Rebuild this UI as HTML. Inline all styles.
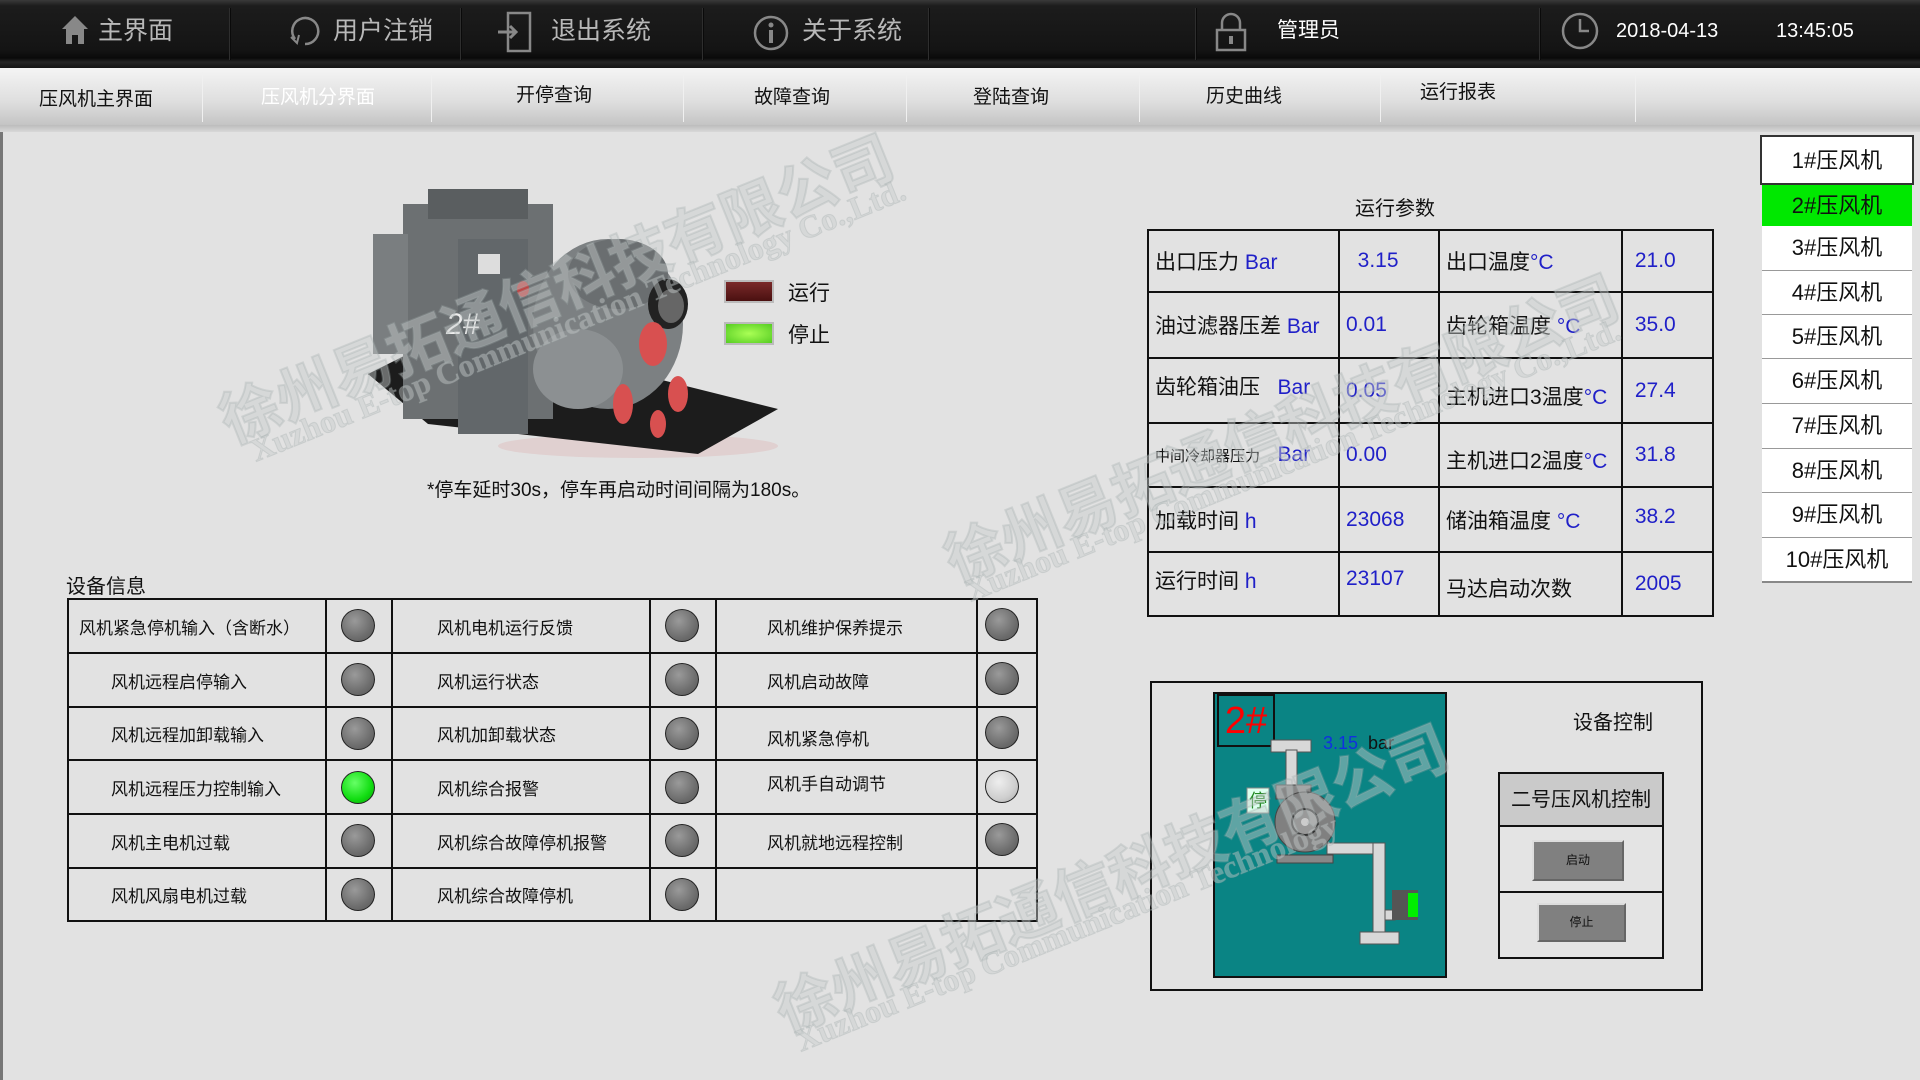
<!DOCTYPE html>
<html><head><meta charset="utf-8">
<style>
*{margin:0;padding:0;box-sizing:border-box}
body{width:1920px;height:1080px;overflow:hidden;background:#e2e2e2;position:relative;font-family:"Liberation Sans","Noto Sans CJK SC",sans-serif;color:#111}
.a{position:absolute;white-space:nowrap}
#top{position:absolute;left:0;top:0;width:1920px;height:68px;background:linear-gradient(#3a3a3a 0,#1c1c1c 6px,#141414 50px,#0a0a0a 58px,#262626 62px,#151515 68px)}
.sep{position:absolute;top:8px;width:2px;height:52px;background:#2e2e2e;border-right:1px solid #0a0a0a}
.tt{position:absolute;top:14px;font-size:25px;color:#b8b8b8;line-height:34px}
#nav{position:absolute;left:0;top:68px;width:1920px;height:57px;background:linear-gradient(#f4f4f4,#dedede 60%,#c4c4c4)}
#navb{position:absolute;left:0;top:125px;width:1920px;height:7px;background:linear-gradient(#bcbcbc,#d8d8d8)}
.ns{position:absolute;top:72px;width:1px;height:50px;background:#b0b0b0;border-right:1px solid #f0f0f0}
.nt{position:absolute;font-size:19px;line-height:24px;color:#111}
table{border-collapse:collapse;position:absolute;table-layout:fixed}
td{border:2px solid #111;padding:0;white-space:nowrap;overflow:hidden}
.lamp{position:absolute;width:34px;height:33px;border-radius:50%;background:radial-gradient(circle at 40% 35%,#9a9a9a,#6e6e6e 60%,#555);border:1.5px solid #222}
.pl{font-size:21px;padding-left:6px}
.b{color:#2020c8}
.li{position:absolute;left:1762px;width:150px;background:#fff;border-bottom:1px solid #999;font-size:22px;text-align:center}
.wm{position:absolute;color:rgba(200,204,204,.45);font-size:60px;white-space:nowrap;transform:rotate(-22deg);transform-origin:left top;-webkit-text-stroke:2px rgba(160,168,168,.3);font-weight:bold}
.wm2{position:absolute;color:rgba(200,204,204,.45);font-size:32px;white-space:nowrap;transform:rotate(-22deg);transform-origin:left top;font-family:"Liberation Serif",serif;font-weight:bold;-webkit-text-stroke:1px rgba(160,168,168,.3)}
</style></head><body>
<div style="position:absolute;left:0;top:0;width:3px;height:1080px;background:#777"></div>
<div id="top"></div>
<div class="sep" style="left:229px"></div><div class="sep" style="left:460px"></div><div class="sep" style="left:702px"></div><div class="sep" style="left:928px"></div><div class="sep" style="left:1195px"></div><div class="sep" style="left:1539px"></div>
<svg class="a" style="left:60px;top:14px" width="30" height="32"><path d="M15 2 L2 15 H6 V30 H12 V21 H18 V30 H24 V15 H28 Z" fill="#888"/></svg>
<div class="tt" style="left:98px">主界面</div>
<svg class="a" style="left:287px;top:13px" width="36" height="36"><path d="M8 26 A13 13 0 1 1 18 31" fill="none" stroke="#888" stroke-width="2.5"/><path d="M4 24 L10 30 L12 22" fill="none" stroke="#888" stroke-width="2"/></svg>
<div class="tt" style="left:333px">用户注销</div>
<svg class="a" style="left:496px;top:10px" width="38" height="44"><rect x="12" y="3" width="22" height="38" fill="none" stroke="#888" stroke-width="2.5"/><path d="M2 22 H20 M14 16 L20 22 L14 28" fill="none" stroke="#888" stroke-width="3"/></svg>
<div class="tt" style="left:551px">退出系统</div>
<svg class="a" style="left:752px;top:14px" width="38" height="38"><circle cx="19" cy="19" r="16" fill="none" stroke="#888" stroke-width="2.5"/><rect x="17" y="16" width="4" height="13" fill="#888"/><circle cx="19" cy="11" r="2.5" fill="#888"/></svg>
<div class="tt" style="left:802px">关于系统</div>
<svg class="a" style="left:1212px;top:12px" width="38" height="40"><path d="M10 18 V11 A9 9 0 0 1 28 11 V18" fill="none" stroke="#888" stroke-width="2.5"/><rect x="5" y="18" width="28" height="20" fill="none" stroke="#888" stroke-width="2.5"/><rect x="17" y="24" width="4" height="8" fill="#888"/></svg>
<div class="tt" style="left:1277px;color:#fff;font-size:21px">管理员</div>
<svg class="a" style="left:1560px;top:11px" width="40" height="40"><circle cx="20" cy="20" r="17" fill="none" stroke="#888" stroke-width="2.5"/><path d="M20 8 V20 H29" fill="none" stroke="#888" stroke-width="2.5"/></svg>
<div class="tt" style="left:1616px;color:#fff;font-size:20px">2018-04-13</div>
<div class="tt" style="left:1776px;color:#fff;font-size:20px">13:45:05</div>

<div id="nav"></div><div id="navb"></div>
<div class="ns" style="left:202px"></div><div class="ns" style="left:431px"></div><div class="ns" style="left:683px"></div><div class="ns" style="left:906px"></div><div class="ns" style="left:1139px"></div><div class="ns" style="left:1380px"></div><div class="ns" style="left:1635px"></div>
<div class="nt" style="left:39px;top:88px">压风机主界面</div>
<div class="nt" style="left:261px;top:86px;color:#fff">压风机分界面</div>
<div class="nt" style="left:516px;top:84px">开停查询</div>
<div class="nt" style="left:754px;top:86px">故障查询</div>
<div class="nt" style="left:973px;top:86px">登陆查询</div>
<div class="nt" style="left:1206px;top:85px">历史曲线</div>
<div class="nt" style="left:1420px;top:81px">运行报表</div>

<!-- machine -->
<svg class="a" style="left:368px;top:184px" width="412" height="275">
<ellipse cx="270" cy="262" rx="140" ry="12" fill="#e0d0d0"/>
<path d="M0 190 L40 170 L270 190 L410 225 L330 270 L60 240 Z" fill="#1c1c1c"/>
<rect x="35" y="20" width="150" height="215" fill="#6c7072"/>
<rect x="60" y="5" width="100" height="30" fill="#5a5e60"/>
<rect x="5" y="50" width="35" height="120" fill="#7a7e80"/>
<rect x="90" y="55" width="70" height="195" fill="#62676a"/>
<rect x="110" y="70" width="22" height="20" fill="#ddd"/>
<text x="78" y="150" font-size="30" font-style="italic" fill="#eee" font-family="Liberation Sans">2#</text>
<ellipse cx="240" cy="140" rx="75" ry="85" fill="#7c8082"/>
<ellipse cx="210" cy="185" rx="45" ry="40" fill="#8c9092"/>
<ellipse cx="250" cy="90" rx="50" ry="35" fill="#6a6e70"/>
<ellipse cx="300" cy="120" rx="20" ry="25" fill="#222"/>
<ellipse cx="303" cy="122" rx="13" ry="17" fill="#666"/>
<ellipse cx="285" cy="160" rx="14" ry="22" fill="#d85050"/>
<ellipse cx="255" cy="220" rx="10" ry="20" fill="#d85050"/>
<ellipse cx="310" cy="210" rx="10" ry="18" fill="#d85050"/>
<ellipse cx="290" cy="240" rx="8" ry="14" fill="#d85050"/>
<ellipse cx="155" cy="105" rx="6" ry="8" fill="#c04040"/>
</svg>
<div class="a" style="left:724px;top:280px;width:50px;height:23px;background:linear-gradient(#7a2a2a,#4a1010);border:2px solid #bbb"></div>
<div class="a" style="left:788px;top:277px;font-size:21px">运行</div>
<div class="a" style="left:724px;top:322px;width:50px;height:23px;background:radial-gradient(#aaff55,#55cc22);border:2px solid #bbb"></div>
<div class="a" style="left:788px;top:319px;font-size:21px">停止</div>
<div class="a" style="left:427px;top:475px;font-size:19px">*停车延时30s，停车再启动时间间隔为180s。</div>

<!-- params -->
<div class="a" style="left:1355px;top:192px;font-size:20px">运行参数</div>
<table style="left:1147px;top:229px;width:567px;height:386px">
<colgroup><col style="width:191px"><col style="width:100px"><col style="width:183px"><col></colgroup>
<tr style="height:62px"><td class="pl">出口压力 <span class="b">Bar</span></td><td class="pl b">&nbsp;&nbsp;3.15</td><td class="pl">出口温度<span class="b">°C</span></td><td class="pl b">&nbsp;21.0</td></tr>
<tr style="height:66px"><td class="pl">油过滤器压差 <span class="b">Bar</span></td><td class="pl b">0.01</td><td class="pl">齿轮箱温度 <span class="b">°C</span></td><td class="pl b">&nbsp;35.0</td></tr>
<tr style="height:65px"><td class="pl" style="padding-bottom:10px">齿轮箱油压 &nbsp;&nbsp;<span class="b">Bar</span></td><td class="pl b">0.05</td><td class="pl" style="padding-top:10px">主机进口3温度<span class="b">°C</span></td><td class="pl b">&nbsp;27.4</td></tr>
<tr style="height:64px"><td class="pl"><span style="font-size:15px">中间冷却器压力</span> &nbsp;&nbsp;<span class="b">Bar</span></td><td class="pl b">0.00</td><td class="pl" style="padding-top:10px">主机进口2温度<span class="b">°C</span></td><td class="pl b">&nbsp;31.8</td></tr>
<tr style="height:65px"><td class="pl">加载时间 <span class="b">h</span></td><td class="pl b">23068</td><td class="pl">储油箱温度 <span class="b">°C</span></td><td class="pl b" style="padding-bottom:6px">&nbsp;38.2</td></tr>
<tr style="height:64px"><td class="pl" style="padding-bottom:8px">运行时间 <span class="b">h</span></td><td class="pl b" style="padding-bottom:10px">23107</td><td class="pl" style="padding-top:8px">马达启动次数</td><td class="pl b">&nbsp;2005</td></tr>
</table>

<!-- right list -->
<div class="li" style="top:135px;height:50px;line-height:48px;border:2px solid #333;left:1760px;width:154px">1#压风机</div>
<div class="li" style="top:185px;height:41px;line-height:41px;background:#00e800;border:none">2#压风机</div>
<div class="li" style="top:226px;height:45px;line-height:44px">3#压风机</div>
<div class="li" style="top:271px;height:44px;line-height:44px">4#压风机</div>
<div class="li" style="top:315px;height:44px;line-height:44px">5#压风机</div>
<div class="li" style="top:359px;height:45px;line-height:44px">6#压风机</div>
<div class="li" style="top:404px;height:45px;line-height:44px">7#压风机</div>
<div class="li" style="top:449px;height:44px;line-height:44px">8#压风机</div>
<div class="li" style="top:493px;height:45px;line-height:44px">9#压风机</div>
<div class="li" style="top:538px;height:45px;line-height:44px;border-bottom:2px solid #888">10#压风机</div>

<!-- device info -->
<div class="a" style="left:66px;top:570px;font-size:20px">设备信息</div>
<table style="left:67px;top:598px;width:971px;height:322px;font-size:17px">
<colgroup><col style="width:258px"><col style="width:66px"><col style="width:258px"><col style="width:66px"><col style="width:261px"><col></colgroup>
<tr style="height:54px"><td style="padding-left:10px">风机紧急停机输入（含断水）</td><td></td><td style="padding-left:44px">风机电机运行反馈</td><td></td><td style="padding-left:50px">风机维护保养提示</td><td></td></tr>
<tr style="height:54px"><td style="padding-left:42px">风机远程启停输入</td><td></td><td style="padding-left:44px">风机运行状态</td><td></td><td style="padding-left:50px">风机启动故障</td><td></td></tr>
<tr style="height:53px"><td style="padding-left:42px">风机远程加卸载输入</td><td></td><td style="padding-left:44px">风机加卸载状态</td><td></td><td style="padding-left:50px;padding-top:8px">风机紧急停机</td><td></td></tr>
<tr style="height:54px"><td style="padding-left:42px">风机远程压力控制输入</td><td></td><td style="padding-left:44px">风机综合报警</td><td></td><td style="padding-left:50px;padding-bottom:10px">风机手自动调节</td><td></td></tr>
<tr style="height:54px"><td style="padding-left:42px">风机主电机过载</td><td></td><td style="padding-left:44px">风机综合故障停机报警</td><td></td><td style="padding-left:50px">风机就地远程控制</td><td></td></tr>
<tr style="height:53px"><td style="padding-left:42px">风机风扇电机过载</td><td></td><td style="padding-left:44px">风机综合故障停机</td><td></td><td></td><td></td></tr>
</table>
<div class="lamp" style="left:341px;top:609px"></div><div class="lamp" style="left:665px;top:609px"></div><div class="lamp" style="left:985px;top:608px"></div>
<div class="lamp" style="left:341px;top:663px"></div><div class="lamp" style="left:665px;top:663px"></div><div class="lamp" style="left:985px;top:662px"></div>
<div class="lamp" style="left:341px;top:717px"></div><div class="lamp" style="left:665px;top:717px"></div><div class="lamp" style="left:985px;top:716px"></div>
<div class="lamp" style="left:341px;top:771px;background:radial-gradient(circle at 40% 35%,#66ff66,#11dd11 60%,#0a9a0a)"></div><div class="lamp" style="left:665px;top:771px"></div><div class="lamp" style="left:985px;top:770px;background:radial-gradient(circle at 40% 35%,#eee,#cfcfcf 60%,#aaa)"></div>
<div class="lamp" style="left:341px;top:824px"></div><div class="lamp" style="left:665px;top:824px"></div><div class="lamp" style="left:985px;top:823px"></div>
<div class="lamp" style="left:341px;top:878px"></div><div class="lamp" style="left:665px;top:878px"></div>

<!-- control -->
<div class="a" style="left:1150px;top:681px;width:553px;height:310px;border:2px solid #111"></div>
<div class="a" style="left:1213px;top:692px;width:234px;height:286px;background:#0a8484;border:2px solid #111"></div>
<div class="a" style="left:1217px;top:694px;width:58px;height:53px;border:2px solid #111;color:#f00;font-size:38px;line-height:50px;text-align:center">2#</div>
<div class="a" style="left:1323px;top:733px;font-size:18px;color:#1030e0">3.15 <span style="color:#111">&nbsp;bar</span></div>
<svg class="a" style="left:1240px;top:735px" width="190" height="215">
<g fill="#d8d8d8" stroke="#555" stroke-width="1">
<rect x="31" y="5" width="40" height="12"/>
<rect x="46" y="15" width="11" height="40"/>
<rect x="87" y="108" width="57" height="11"/>
<rect x="133" y="108" width="12" height="90"/>
<rect x="120" y="197" width="39" height="12"/>
<rect x="145" y="175" width="10" height="10"/>
</g>
<rect x="36" y="50" width="35" height="14" fill="#888" stroke="#444"/>
<circle cx="65" cy="87" r="30" fill="#808080" stroke="#444"/>
<circle cx="65" cy="87" r="13" fill="#999" stroke="#333" stroke-width="2"/>
<circle cx="65" cy="87" r="4" fill="#ccc"/>
<rect x="37" y="120" width="56" height="8" fill="#888" stroke="#444"/>
<rect x="152" y="155" width="26" height="30" fill="#555"/>
<rect x="168" y="158" width="10" height="24" fill="#00ee00"/>
<rect x="7" y="53" width="22" height="25" fill="#dfe" stroke="#888"/>
<text x="9" y="72" font-size="18" fill="#282" font-family="Noto Sans CJK SC">停</text>
</svg>
<div class="a" style="left:1573px;top:706px;font-size:20px">设备控制</div>
<div class="a" style="left:1498px;top:772px;width:166px;height:187px;border:2px solid #111;background:#e4e4e4"></div>
<div class="a" style="left:1500px;top:774px;width:162px;height:53px;background:#cacaca;border-bottom:2px solid #111;font-size:20px;line-height:52px;text-align:center">二号压风机控制</div>
<div class="a" style="left:1500px;top:891px;width:162px;height:2px;background:#111"></div>
<div class="a" style="left:1532px;top:840px;width:92px;height:41px;background:#808080;border:2px solid #ddd;border-right-color:#666;border-bottom-color:#666;font-size:12px;line-height:37px;text-align:center">启动</div>
<div class="a" style="left:1537px;top:903px;width:89px;height:39px;background:#808080;border:2px solid #ddd;border-right-color:#666;border-bottom-color:#666;font-size:12px;line-height:35px;text-align:center">停止</div>

<!-- watermarks -->
<div class="wm" style="left:205px;top:380px">徐州易拓通信科技有限公司</div>
<div class="wm2" style="left:245px;top:435px">Xuzhou E-top Communication Technology Co.,Ltd.</div>
<div class="wm" style="left:930px;top:520px">徐州易拓通信科技有限公司</div>
<div class="wm2" style="left:960px;top:575px">Xuzhou E-top Communication Technology Co.,Ltd.</div>
<div class="wm" style="left:760px;top:970px">徐州易拓通信科技有限公司</div>
<div class="wm2" style="left:790px;top:1025px">Xuzhou E-top Communication Technology</div>
</body></html>
